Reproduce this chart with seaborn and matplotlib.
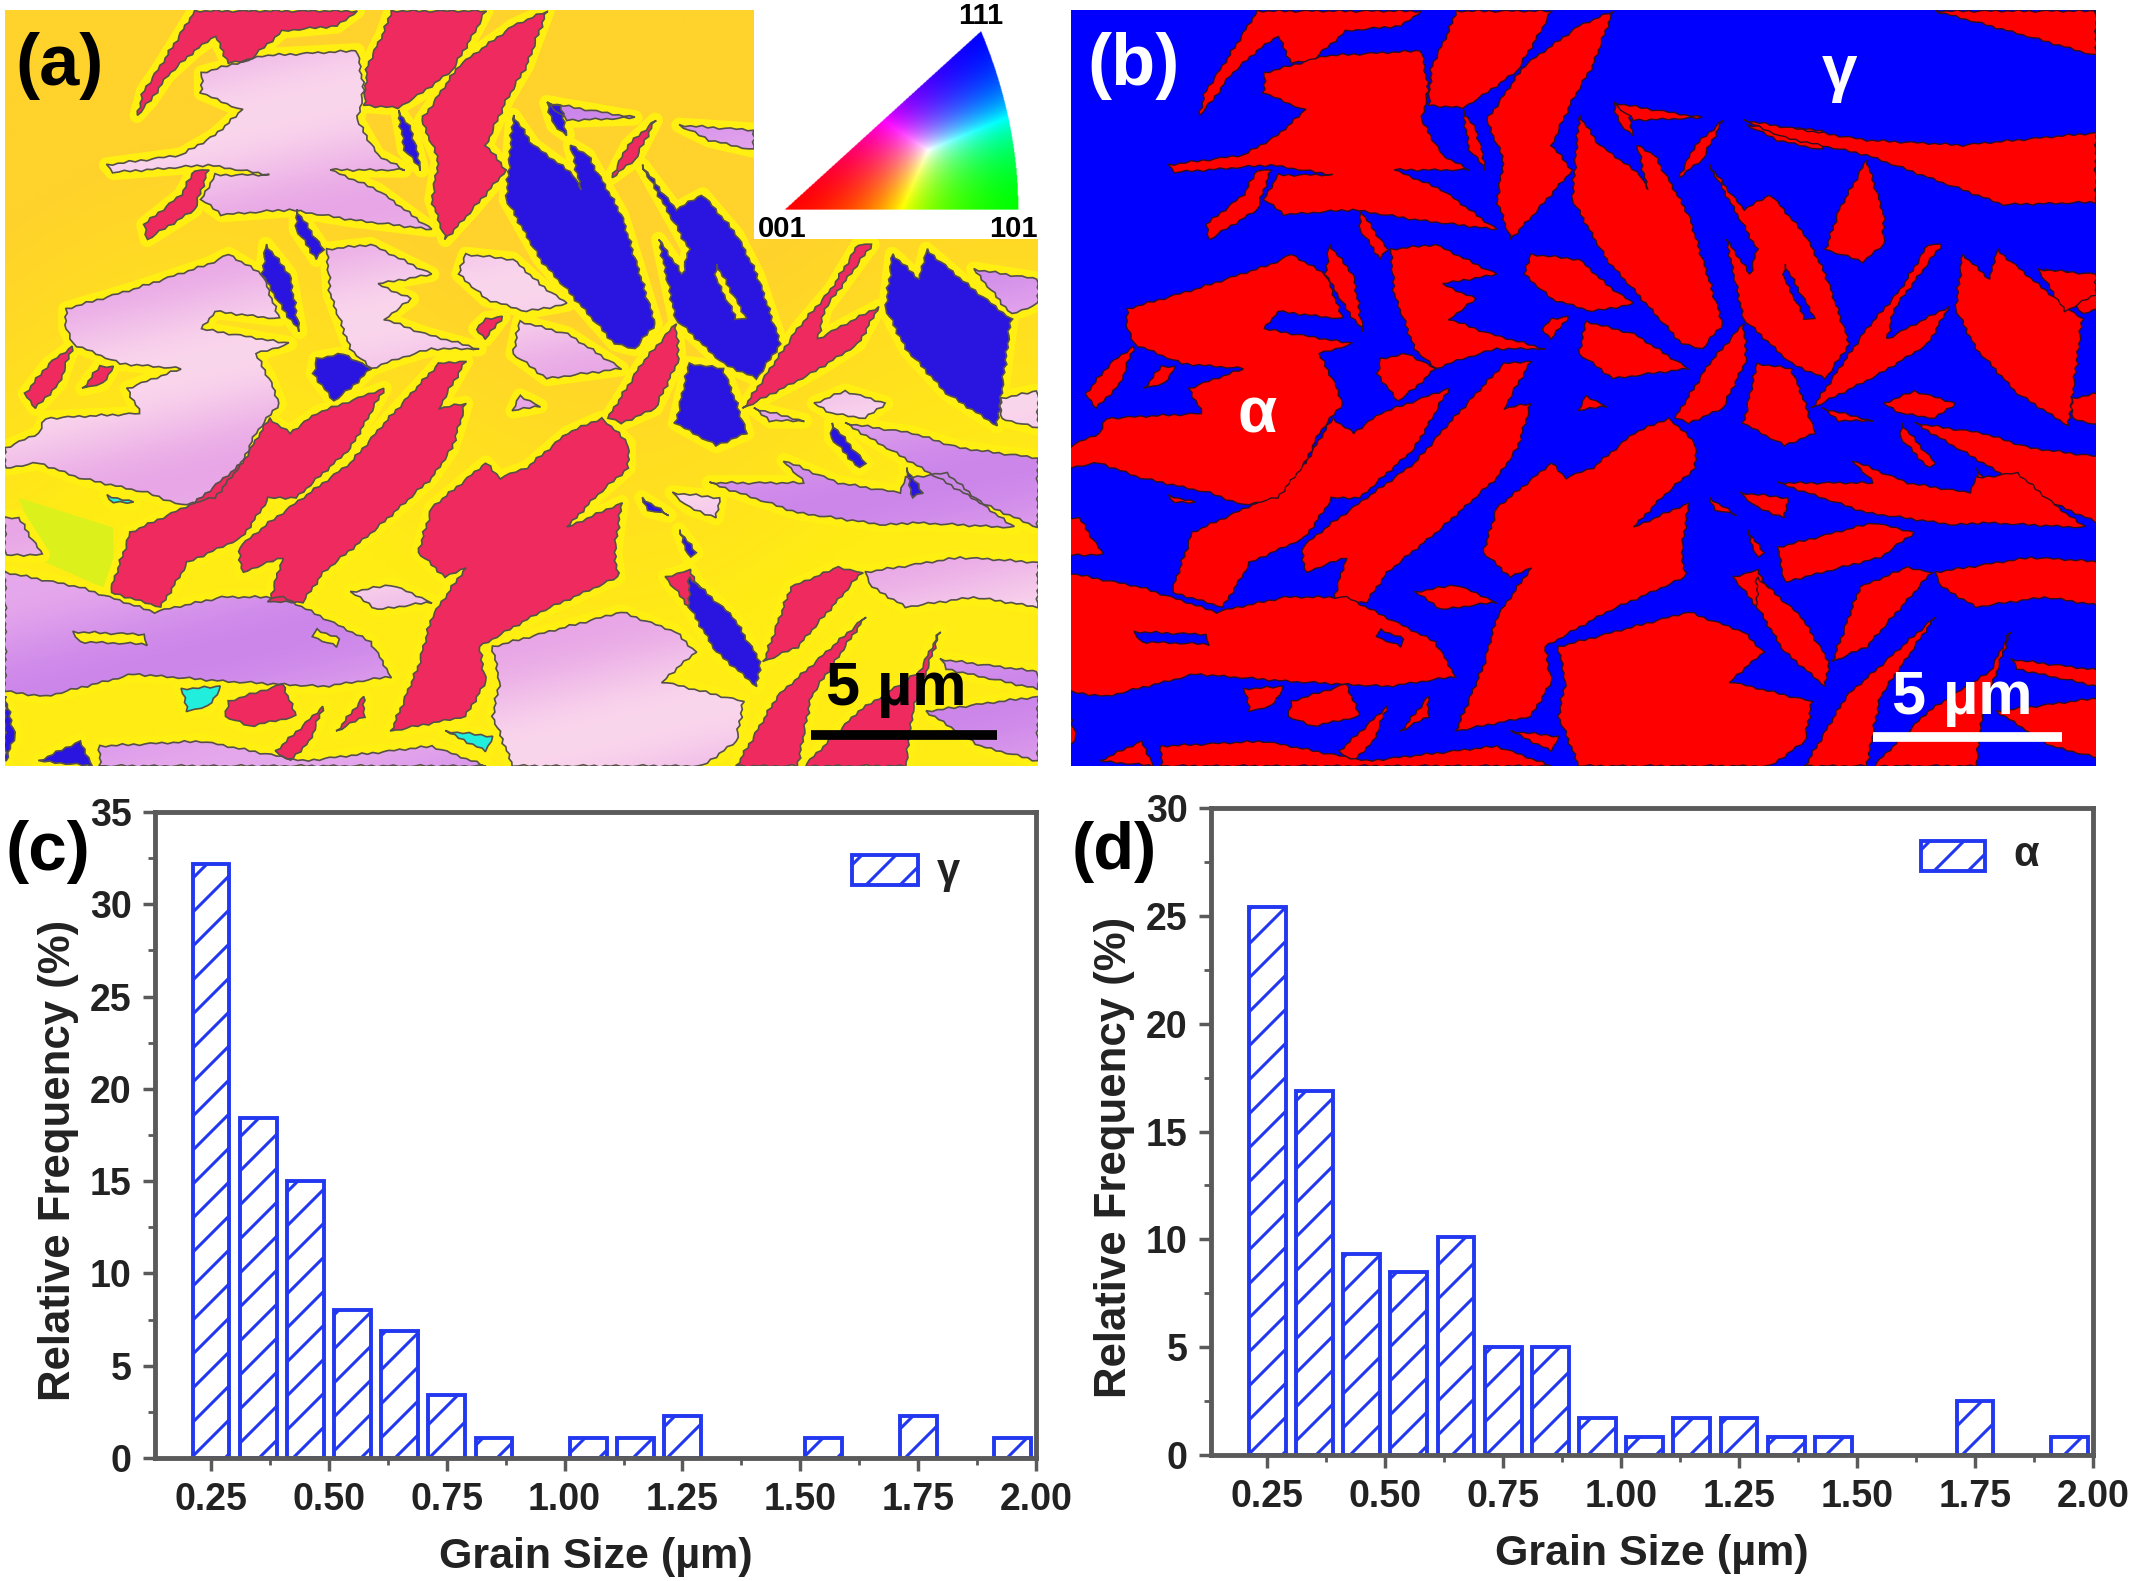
import numpy as np
import matplotlib
matplotlib.use('Agg')
import matplotlib.pyplot as plt
from matplotlib.patches import Rectangle, Polygon
from matplotlib.transforms import IdentityTransform
import matplotlib.colors as mcolors
import seaborn as sns

# histogram data
grain_size = [0.25, 0.35, 0.45, 0.55, 0.65, 0.75, 0.85, 0.95, 1.05, 1.15, 1.25, 1.35, 1.45, 1.55, 1.65, 1.75, 1.85, 1.95]
freq_gamma = [32.2, 18.4, 15.0, 8.0, 6.9, 3.4, 1.1, 0, 1.1, 1.1, 2.3, 0, 0, 1.1, 0, 2.3, 0, 1.1]
freq_alpha = [25.4, 16.9, 9.3, 8.5, 10.1, 5.0, 5.0, 1.7, 0.85, 1.7, 1.7, 0.85, 0.85, 0, 0, 2.5, 0, 0.85]
x_ticks = [0.25, 0.50, 0.75, 1.00, 1.25, 1.50, 1.75, 2.00]

# grain outlines of the maps, traced by eye from the micrographs
crimson_grains = [
    [(290,20),(530,20),(500,50),(420,60),(370,120),(340,125),(320,70),(290,100),(250,150),(225,200),(205,230),(215,180),(240,130)],
    [(580,20),(720,20),(700,70),(670,140),(620,190),(590,215),(540,210),(545,130),(570,60)],
    [(810,20),(780,130),(750,200),(720,290),(750,340),(700,420),(660,480),(640,400),(650,320),(625,240),(680,130),(760,50)],
    [(310,340),(290,420),(220,480),(215,450),(270,390),(290,340)],
    [(970,240),(940,320),(905,355),(930,290)],
    [(400,840),(430,870),(470,830),(570,780),(520,900),(440,1000),(400,1000),(360,1080),(280,1130),(240,1220),(165,1190),(195,1070),(290,1010),(360,930)],
    [(690,725),(650,820),(690,810),(670,900),(640,960),(560,1060),(480,1150),(450,1210),(400,1210),(420,1120),(360,1150),(355,1100),(400,1050),(450,1000),(520,930),(570,850),(650,730)],
    [(890,840),(900,850),(930,890),(930,940),(880,1000),(840,1060),(920,1010),(910,1110),(915,1160),(800,1230),(710,1300),(720,1370),(690,1440),(580,1470),(620,1340),(640,1240),(690,1140),(660,1160),(620,1110),(640,1020),(720,930),(740,960),(780,940),(840,870)],
    [(1000,650),(1005,720),(970,820),(920,850),(900,840),(950,730)],
    [(1100,820),(1180,660),(1230,580),(1270,490),(1290,490),(1220,620),(1210,680),(1300,615),(1270,690),(1200,750)],
    [(1240,1140),(1275,1150),(1180,1300),(1130,1330),(1170,1180)],
    [(1090,1540),(1150,1400),(1280,1240),(1200,1400),(1180,1540)],
    [(1390,1270),(1350,1430),(1340,1540),(1190,1540),(1270,1430),(1360,1350)],
    [(40,790),(75,730),(110,695),(90,770),(55,820)],
    [(125,780),(150,735),(170,735),(155,770)],
    [(720,640),(745,635),(720,680),(705,660)],
    [(340,1410),(420,1375),(440,1440),(370,1460),(335,1440)],
    [(410,1510),(480,1420),(460,1490),(430,1530)],
    [(500,1470),(540,1400),(540,1440)],
    [(985,1160),(1020,1145),(1040,1190),(1020,1220)],
]
blue_grains = [
    [(760,230),(790,290),(850,350),(860,380),(845,290),(870,310),(920,430),(970,650),(940,700),(910,690),(800,520),(750,400)],
    [(950,330),(1000,420),(1040,390),(1090,470),(1120,550),(1155,690),(1120,760),(1070,730),(1000,640),(975,480),(1010,550),(1020,500)],
    [(810,205),(830,210),(840,270),(820,250)],
    [(590,220),(610,260),(625,340),(600,300)],
    [(440,420),(480,500),(470,520),(440,460)],
    [(395,490),(430,550),(445,665),(420,620),(390,550)],
    [(470,720),(510,710),(550,740),(520,780),(495,805),(465,750)],
    [(1020,730),(1070,740),(1090,810),(1105,870),(1060,895),(1000,850),(1010,790)],
    [(1320,510),(1360,560),(1370,500),(1430,570),(1495,640),(1475,855),(1400,790),(1340,700),(1310,620)],
    [(1230,850),(1280,930),(1270,940),(1230,880)],
    [(1340,940),(1365,990),(1350,1000)],
    [(950,1000),(990,1035),(960,1025)],
    [(1020,1160),(1085,1240),(1125,1330),(1120,1380),(1060,1310),(1020,1220)],
    [(1005,1065),(1030,1110),(1020,1120)],
    [(10,1400),(25,1480),(10,1530)],
    [(60,1530),(120,1490),(140,1540)],
]
pink_grains = [
    [(300,145),(390,110),(530,100),(540,180),(530,240),(560,310),(600,340),(490,340),(560,380),(640,460),(520,440),(430,420),(330,430),(300,400),(320,350),(400,350),(310,330),(170,345),(160,330),(270,310),(320,270),(360,220),(300,185)],
    [(100,620),(200,580),(310,530),(340,510),(390,550),(415,640),(320,625),(300,660),(430,690),(380,710),(400,760),(415,810),(380,870),(360,930),(320,1000),(270,1015),(220,990),(120,960),(60,930),(10,940),(10,900),(60,870),(70,840),(210,830),(190,780),(270,740),(180,730),(110,690),(100,660)],
    [(485,500),(550,490),(640,550),(560,570),(610,600),(570,640),(630,670),(710,700),(640,700),(590,720),(550,740),(520,700),(490,590)],
    [(690,510),(760,520),(800,570),(840,610),(780,625),(720,600),(680,550)],
    [(770,645),(840,670),(920,740),(810,760),(760,710)],
    [(770,795),(800,815),(760,825)],
    [(1205,810),(1250,785),(1310,810),(1280,840),(1230,830)],
    [(1480,800),(1535,785),(1535,860),(1480,840)],
    [(1280,1150),(1420,1120),(1535,1130),(1535,1220),(1440,1200),(1340,1220),(1290,1180)],
    [(730,1300),(920,1230),(1000,1270),(1030,1310),(980,1370),(1100,1410),(1090,1490),(1040,1540),(760,1540),(730,1440),(740,1370)],
    [(10,1040),(30,1040),(65,1115),(10,1115)],
    [(520,1190),(580,1175),(640,1210),(560,1225)],
    [(995,990),(1065,1000),(1060,1040),(1020,1020)],
]
violet_grains = [
    [(810,205),(940,235),(840,240)],
    [(1005,250),(1115,260),(1115,300),(1050,280)],
    [(1440,540),(1535,560),(1535,610),(1495,630)],
    [(1115,820),(1190,845),(1140,845)],
    [(1250,850),(1350,870),(1420,900),(1535,920),(1535,1060),(1450,1010),(1350,930)],
    [(1050,970),(1190,970),(1160,925),(1240,970),(1330,990),(1340,960),(1400,950),(1460,1020),(1500,1060),(1350,1050),(1310,1055),(1180,1030)],
    [(10,1150),(120,1180),(230,1230),(330,1200),(420,1200),(550,1290),(580,1360),(480,1380),(340,1370),(200,1355),(70,1400),(10,1390)],
    [(150,1500),(300,1490),(450,1530),(640,1500),(720,1540),(150,1540)],
    [(1390,1325),(1535,1350),(1535,1385),(1400,1345)],
    [(1370,1430),(1535,1400),(1535,1530),(1450,1500)],
]
cyan_grains = [
    [(270,1385),(330,1380),(310,1420),(280,1430)],
    [(660,1470),(730,1480),(720,1510)],
    [(160,995),(200,1010),(170,1010)],
]
# grains hidden behind the colour key or gold in (a), seen only in (b)
hidden_grains = [
    [(1000,240),(1180,280),(1320,290),(1515,265),(1515,405),(1380,410),(1180,310),(1060,275)],
    [(1280,20),(1515,20),(1515,110),(1400,65)],
    [(1180,320),(1205,430),(1205,490),(1175,525),(1120,500),(1140,420)],
    [(1430,540),(1515,550),(1515,590),(1470,625)],
    [(1050,1100),(1190,1050),(1250,1070),(1200,1120),(1060,1170)],
]
holes = [
    [(1060,530),(1105,640),(1090,640),(1060,560)],
    [(110,1270),(215,1275),(220,1295),(120,1290)],
    [(470,1265),(505,1285),(500,1300),(465,1280)],
]
lime_patch = [(30,1000),(170,1060),(170,1190),(70,1130)]

W, H = 2133, 1581
sns.set_theme(style='ticks')
plt.rcParams['font.family'] = ['Liberation Sans', 'DejaVu Sans']
plt.rcParams['font.weight'] = 'bold'
fig = plt.figure(figsize=(W / 100, H / 100), dpi=100, facecolor='white')


def px_axes(x0, y0, x1, y1):
    return fig.add_axes([x0 / W, 1 - y1 / H, (x1 - x0) / W, (y1 - y0) / H])


def rough(pts):
    # add a small uneven saw edge to a traced outline
    wobble = [1.5, -2, 0.5, -1, 2.5, -1.5, 1, -2.5, 0, 1.5, -0.5]
    out = []
    k = 0
    for (xa, ya), (xb, yb) in zip(pts, pts[1:] + pts[:1]):
        n = max(1, int(np.hypot(xb - xa, yb - ya) / 8))
        nx, ny = (yb - ya), -(xb - xa)
        norm = max(np.hypot(nx, ny), 1)
        for i in range(n):
            t = i / n
            w = wobble[k % len(wobble)]
            out.append((xa + (xb - xa) * t + w * nx / norm, ya + (yb - ya) * t + w * ny / norm))
            k += 1
    return out


def draw_grains(ax, grains, face, edge, lw=1.2):
    for g in grains:
        ax.add_patch(Polygon(rough(g), closed=True, facecolor=face, edgecolor=edge, linewidth=lw, zorder=3))


def mix_image(low, high, u):
    a = np.array(mcolors.to_rgb(low))
    b = np.array(mcolors.to_rgb(high))
    return a + (b - a) * np.clip(u, 0, 1)[..., None]


def shaded_grains(ax, grains, low, high, shift, edge):
    # soft colour bands inside a grain, the orientation spread seen in the map
    gx, gy = np.meshgrid(np.linspace(10, 1535, 220), np.linspace(18, 1540, 220))
    u = 0.5 + 0.5 * np.sin(gy / 75 + gx / 230 + shift)
    img = mix_image(low, high, u)
    for g in grains:
        patch = Polygon(rough(g), closed=True, facecolor='none', edgecolor=edge, linewidth=1.2, zorder=3.2)
        ax.add_patch(patch)
        im = ax.imshow(img, extent=(10, 1535, 1540, 18), aspect='auto', zorder=3, interpolation='bilinear')
        im.set_clip_path(patch)


def setup_map(ax, xlim, ylim):
    ax.set_xlim(*xlim)
    ax.set_ylim(*ylim)
    ax.set_xticks([])
    ax.set_yticks([])
    for s in ax.spines.values():
        s.set_visible(False)


# (a) orientation map
ax_a = px_axes(5, 10, 1038, 766)
setup_map(ax_a, (10, 1535), (1540, 18))
bx, by = np.meshgrid(np.linspace(10, 1535, 150), np.linspace(18, 1540, 150))
ax_a.imshow(mix_image('#FFD22C', '#FFEC14', (by - 450) / 700 + 0.25 * np.sin(bx / 190)),
            extent=(10, 1535, 1540, 18), aspect='auto', zorder=0, interpolation='bilinear')
ax_a.add_patch(Polygon(lime_patch, facecolor='#DCF01C', edgecolor='none', zorder=1))
all_a = crimson_grains + blue_grains + pink_grains + violet_grains + cyan_grains
for g in all_a:
    ax_a.add_patch(Polygon(g, closed=True, facecolor='#FFF012', edgecolor='#FFF012', linewidth=11,
                           joinstyle='round', zorder=2))
edge_a = '#55504a'
shaded_grains(ax_a, pink_grains, '#FAD6EC', '#E8A6E6', 0.0, edge_a)
shaded_grains(ax_a, violet_grains, '#E6A8EC', '#CC86EA', 1.5, edge_a)
draw_grains(ax_a, crimson_grains, '#EE2A5E', edge_a)
draw_grains(ax_a, blue_grains, '#2A14E0', edge_a)
draw_grains(ax_a, cyan_grains, '#22EEDD', edge_a)
draw_grains(ax_a, holes, '#FFF012', edge_a)

# colour key
ax_a.add_patch(Rectangle((1115, 18), 420, 462, facecolor='white', edgecolor='none', zorder=5))
gx, gy = np.meshgrid(np.linspace(1155, 1510, 400), np.linspace(58, 422, 400))
t = (420 - gy) / 360
w_b = t
w_g = (gx - 1160 - 290 * t) / 345
w_r = 1 - w_g - w_b
rgb = np.clip(np.dstack([w_r, w_g, w_b]), 0, 1)
rgb = (rgb / np.maximum(rgb.max(axis=2, keepdims=True), 1e-6)) ** 1.3
inside = (gy <= 420) & (gx >= 1160 + 290 * t) & (gx <= 1505 - 55 * t ** 2) & (t >= 0) & (t <= 1)
ax_a.imshow(np.dstack([rgb, inside.astype(float)]), extent=(1155, 1510, 422, 58), zorder=6, aspect='auto', interpolation='bilinear')
ax_a.set_xlim(10, 1535)
ax_a.set_ylim(1540, 18)
for label, tx, ty in [('001', 1157, 458), ('101', 1498, 458), ('111', 1450, 30)]:
    ax_a.text(tx, ty, label, fontsize=21, ha='center', va='center', color='black', zorder=7)
ax_a.text(90, 130, '(a)', fontsize=52, ha='center', va='center', color='black', zorder=7)
ax_a.text(1325, 1385, '5 µm', fontsize=44, ha='center', va='center', color='black', zorder=7)
ax_a.plot([1200, 1475], [1478, 1478], color='black', lw=7, solid_capstyle='butt', zorder=7)

# (b) phase map
ax_b = px_axes(1071, 10, 2096, 766)
setup_map(ax_b, (18, 1515), (1540, 18))
ax_b.set_facecolor('#0000FF')
draw_grains(ax_b, crimson_grains + blue_grains + pink_grains + violet_grains + cyan_grains + hidden_grains, '#FF0000', '#301020', lw=1)
draw_grains(ax_b, holes, '#0000FF', '#301020', lw=1)
ax_b.text(110, 130, '(b)', fontsize=52, ha='center', va='center', color='white', zorder=7)
ax_b.text(1140, 145, 'γ', fontsize=46, ha='center', va='center', color='white', zorder=7)
ax_b.text(290, 835, 'α', fontsize=46, ha='center', va='center', color='white', zorder=7)
ax_b.text(1320, 1405, '5 µm', fontsize=44, ha='center', va='center', color='white', zorder=7)
ax_b.plot([1190, 1465], [1482, 1482], color='white', lw=7, solid_capstyle='butt', zorder=7)

BAR_COLOR = '#2238F0'
AXIS_COLOR = '#5a5a5a'
TEXT_COLOR = '#222222'


def hatch_box(ax, box_px, z=2.1):
    # one slanted line every 34 px, in phase across the whole panel
    x0, y0, x1, y1 = box_px
    clip = Rectangle((x0, y0), x1 - x0, y1 - y0, transform=IdentityTransform())
    step = 34
    for c in np.arange(np.floor((y0 - x1) / step) * step, y1 - x0 + step, step):
        line, = ax.plot([x0, x1], [x0 + c, x1 + c], color=BAR_COLOR, lw=2.2,
                        transform=IdentityTransform(), zorder=z, scalex=False, scaley=False)
        line.set_clip_path(clip)


def draw_hist(ax, values, ymax):
    sns.barplot(x=grain_size, y=values, native_scale=True, width=0.78, ax=ax,
                facecolor='white', edgecolor=BAR_COLOR, linewidth=2.8, zorder=2)
    ax.set_xlim(0.131, 2.0)
    ax.set_ylim(0, ymax)
    ax.set_xticks(x_ticks)
    ax.set_xticklabels([f'{v:.2f}' for v in x_ticks])
    ax.set_xticks(np.arange(0.25, 2.0, 0.125), minor=True)
    ax.set_yticks(np.arange(0, ymax + 1, 5))
    ax.set_yticks(np.arange(0, ymax + 0.1, 2.5), minor=True)
    ax.tick_params(axis='both', which='major', labelsize=27, length=9, width=2.5, color=AXIS_COLOR, pad=8, labelcolor=TEXT_COLOR)
    ax.tick_params(axis='both', which='minor', length=5, width=2, color=AXIS_COLOR)
    for s in ax.spines.values():
        s.set_visible(True)
        s.set_color(AXIS_COLOR)
        s.set_linewidth(3.5)
    ax.set_xlabel('Grain Size (µm)', fontsize=31, fontweight='bold', labelpad=14, color=TEXT_COLOR)
    ax.set_ylabel('Relative Frequency (%)', fontsize=31.5, fontweight='bold', labelpad=8, color=TEXT_COLOR, y=0.46)
    for p in ax.patches:
        if p.get_height() > 0:
            bb = p.get_window_extent()
            hatch_box(ax, (bb.x0, bb.y0, bb.x1, bb.y1))
        else:
            p.set_visible(False)


ax_c = px_axes(155, 812, 1036, 1458)
draw_hist(ax_c, freq_gamma, 35)
ax_d = px_axes(1211, 808, 2093, 1455)
draw_hist(ax_d, freq_alpha, 30)


def legend_box(ax, x0, y0, x1, y1, label, tx, ty):
    # legend swatch placed by pixel position
    ax.add_patch(Rectangle((x0, H - y1), x1 - x0, y1 - y0, facecolor='white', edgecolor=BAR_COLOR,
                           linewidth=2.8, transform=IdentityTransform(), zorder=3))
    hatch_box(ax, (x0, H - y1, x1, H - y0), z=3.1)
    fig.text(tx / W, 1 - ty / H, label, fontsize=30, ha='center', va='center', color=TEXT_COLOR)


legend_box(ax_c, 852, 855, 918, 885, 'γ', 948, 872)
legend_box(ax_d, 1921, 841, 1985, 871, 'α', 2026, 855)

fig.text(48 / W, 1 - 852 / H, '(c)', fontsize=50, ha='center', va='center', color='black')
fig.text(1114 / W, 1 - 852 / H, '(d)', fontsize=48, ha='center', va='center', color='black')

fig.savefig('out.png', dpi=100)
